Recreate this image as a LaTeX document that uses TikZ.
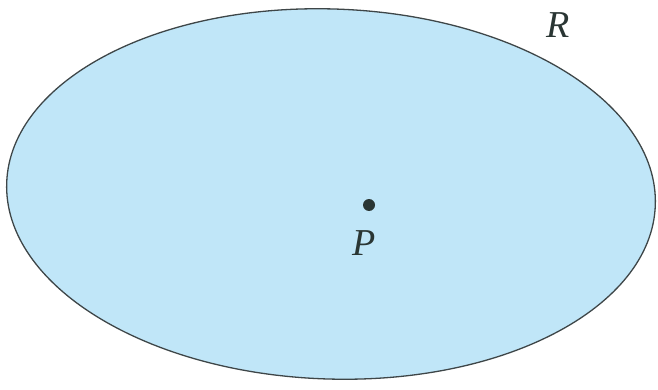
\documentclass[tikz,border=0pt]{standalone}
\usepackage{fontspec}
\setmainfont{Liberation Serif}
\usepackage{tikz}
\usetikzlibrary{shapes.geometric,positioning}
\definecolor{regionBlue}{HTML}{C0E6F8}
\definecolor{regionEdge}{HTML}{3E4648}
\definecolor{dotGray}{HTML}{2A3634}
\begin{document}
\begin{tikzpicture}[
  x=1pt,y=-1pt,
  region/.style={ellipse,draw=regionEdge,line width=1.3pt,fill=regionBlue,inner sep=0pt},
  pt/.style={circle,fill=dotGray,inner sep=0pt,minimum size=12pt},
  lbl/.style={inner sep=0pt,text=dotGray,font=\fontsize{38}{42}\selectfont\itshape}]
  \useasboundingbox (0,0) rectangle (658,390);
  \node[region,minimum width=649pt,minimum height=370pt,rotate=-2] (reg) at (331,194) {};
  \node[lbl] (rlab) at (558,25) {R};
  \node[pt] (p) at (369,205) {};
  \node[lbl] (plab) at (364,243) {P};
\end{tikzpicture}
\end{document}
